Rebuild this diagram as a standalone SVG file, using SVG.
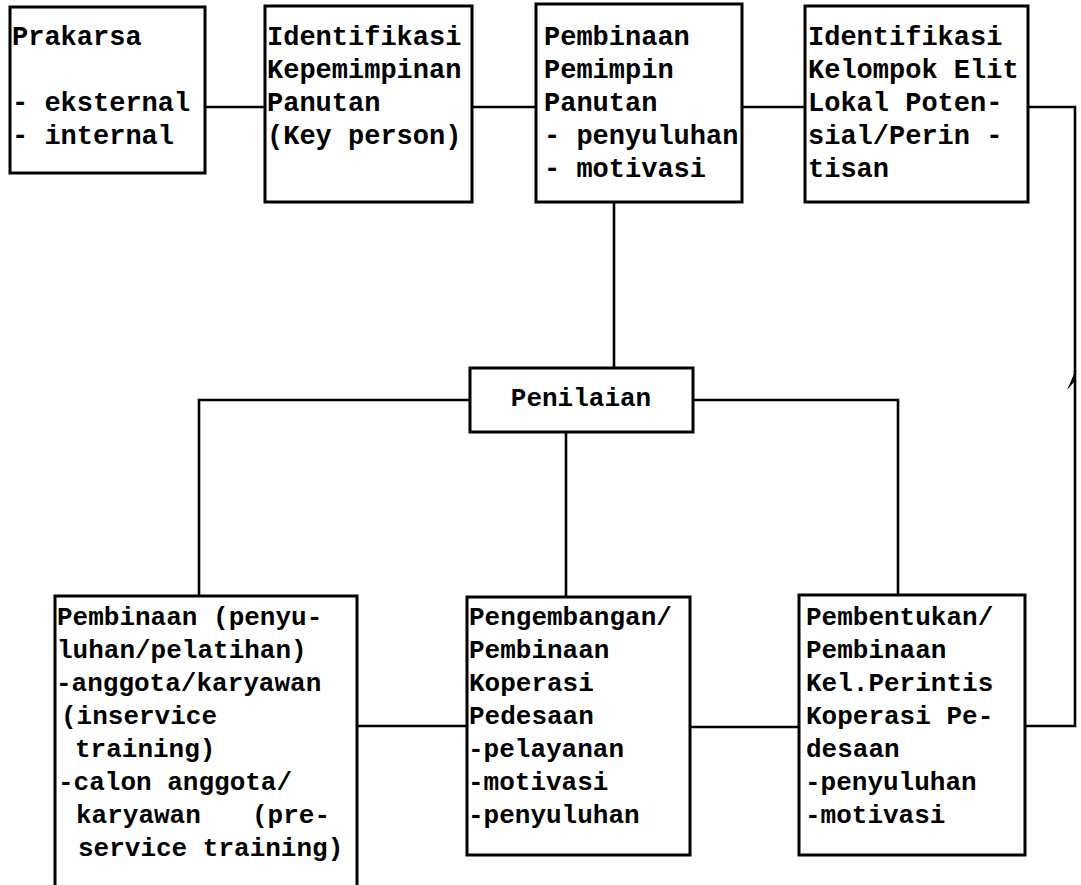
<svg xmlns="http://www.w3.org/2000/svg" width="1081" height="885" viewBox="0 0 1081 885">
<style>
.box{fill:#fff;stroke:#000;stroke-width:3}
.con{fill:none;stroke:#000;stroke-width:2.6}
.t{font-family:"Liberation Mono","Courier New",monospace;font-weight:bold;font-size:27px;fill:#000}
.b{font-size:26px}
</style>
<defs>
<marker id="half" markerUnits="userSpaceOnUse" viewBox="-22 -10 24 12" markerWidth="24" markerHeight="12" refX="0" refY="0" orient="auto">
<path d="M0,0 Q-8,-3 -19,-8 L-11,-1 Z" fill="#000"/>
</marker>
</defs>
<rect width="1081" height="885" fill="#fff"/>
<g id="connectors">
<path class="con" d="M205,107 H265"/>
<path class="con" d="M472,107 H536"/>
<path class="con" d="M742,107 H805"/>
<path class="con" d="M1025,726 H1075 V371" marker-end="url(#half)"/>
<path class="con" d="M1075,372 V107 H1028"/>
<path class="con" d="M614,202 V368"/>
<path class="con" d="M470,400 H199 V596"/>
<path class="con" d="M693,400 H898 V595"/>
<path class="con" d="M566,432 V597"/>
<path class="con" d="M357,726 H467"/>
<path class="con" d="M690,727 H799"/>
</g>
<g id="prakarsa">
<rect class="box" x="10" y="7" width="195" height="166"/>
<text class="t" x="12" y="45">Prakarsa</text>
<text class="t" x="12" y="111">- eksternal</text>
<text class="t" x="12" y="144">- internal</text>
</g>
<g id="identifikasi-kepemimpinan">
<rect class="box" x="265" y="6" width="207" height="196"/>
<text class="t" x="267" y="45">Identifikasi</text>
<text class="t" x="267" y="78">Kepemimpinan</text>
<text class="t" x="267" y="111">Panutan</text>
<text class="t" x="267" y="144">(Key person)</text>
</g>
<g id="pembinaan-pemimpin">
<rect class="box" x="536" y="4" width="206" height="198"/>
<text class="t" x="544" y="45">Pembinaan</text>
<text class="t" x="544" y="78">Pemimpin</text>
<text class="t" x="544" y="111">Panutan</text>
<text class="t" x="544" y="144">- penyuluhan</text>
<text class="t" x="544" y="177">- motivasi</text>
</g>
<g id="identifikasi-elit">
<rect class="box" x="805" y="6" width="223" height="196"/>
<text class="t" x="808" y="45">Identifikasi</text>
<text class="t" x="808" y="78">Kelompok Elit</text>
<text class="t" x="808" y="111">Lokal Poten-</text>
<text class="t" x="808" y="144">sial/Perin -</text>
<text class="t" x="808" y="177">tisan</text>
</g>
<g id="penilaian">
<rect class="box" x="470" y="368" width="223" height="64"/>
<text class="t b" x="581" y="406" text-anchor="middle">Penilaian</text>
</g>
<g id="pembinaan-anggota">
<rect class="box" x="55" y="596" width="302" height="300"/>
<text class="t b" x="57" y="625">Pembinaan (penyu-</text>
<text class="t b" x="57" y="658">luhan/pelatihan)</text>
<text class="t b" x="56" y="691">-anggota/karyawan</text>
<text class="t b" x="61" y="724">(inservice</text>
<text class="t b" x="75" y="757">training)</text>
<text class="t b" x="58" y="790">-calon anggota/</text>
<text class="t b" y="823"><tspan x="76">karyawan</tspan><tspan x="252">(pre-</tspan></text>
<text class="t b" x="78" y="856">service training)</text>
</g>
<g id="pengembangan-koperasi">
<rect class="box" x="467" y="597" width="223" height="258"/>
<text class="t b" x="469" y="625">Pengembangan/</text>
<text class="t b" x="469" y="658">Pembinaan</text>
<text class="t b" x="469" y="691">Koperasi</text>
<text class="t b" x="469" y="724">Pedesaan</text>
<text class="t b" x="468" y="757">-pelayanan</text>
<text class="t b" x="468" y="790">-motivasi</text>
<text class="t b" x="468" y="823">-penyuluhan</text>
</g>
<g id="pembentukan-perintis">
<rect class="box" x="799" y="595" width="226" height="260"/>
<text class="t b" x="806" y="625">Pembentukan/</text>
<text class="t b" x="806" y="658">Pembinaan</text>
<text class="t b" x="806" y="691">Kel.Perintis</text>
<text class="t b" x="806" y="724">Koperasi Pe-</text>
<text class="t b" x="806" y="757">desaan</text>
<text class="t b" x="805" y="790">-penyuluhan</text>
<text class="t b" x="805" y="823">-motivasi</text>
</g>
</svg>
